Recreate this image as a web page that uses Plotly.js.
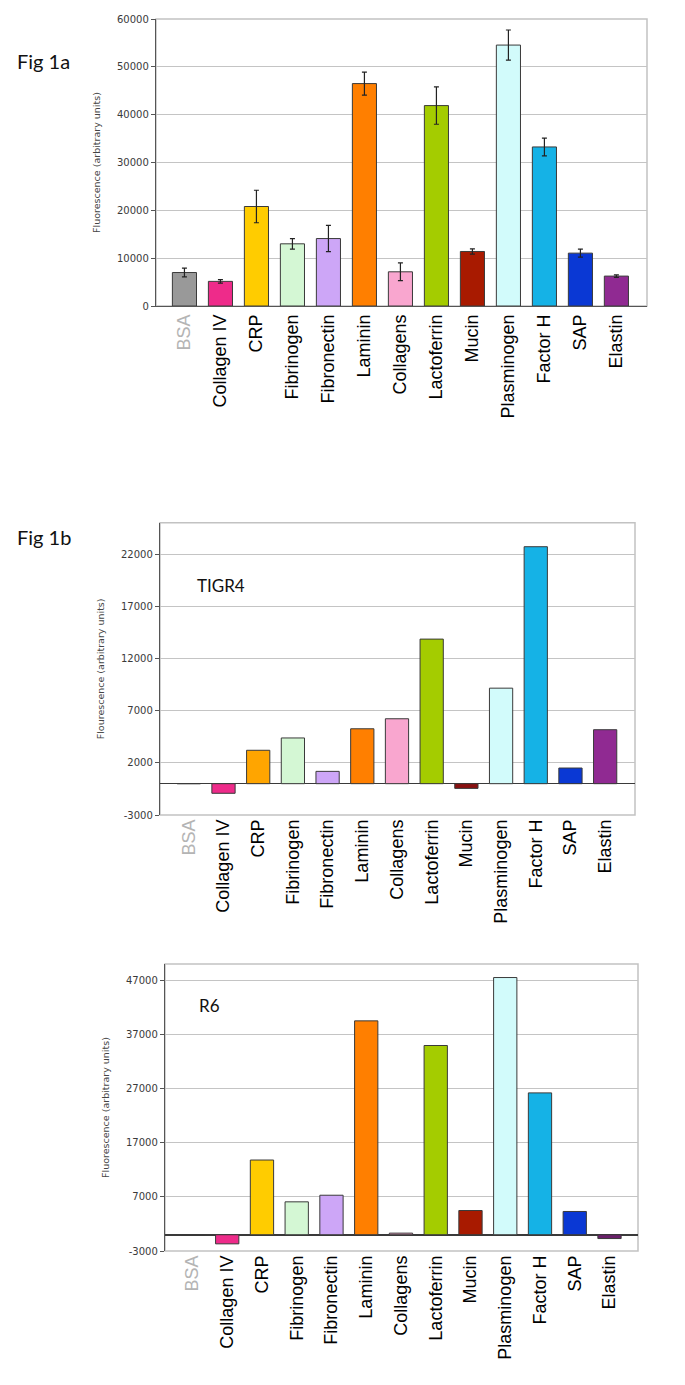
<!DOCTYPE html>
<html>
<head>
<meta charset="utf-8">
<script src="https://cdn.plot.ly/plotly-3.0.1.min.js"></script>
<style>html,body{margin:0;padding:0;background:#fff;}#chart{width:685px;height:1385px;}</style>
</head>
<body>
<div id="chart"></div>
<script>
// ---- data ----
const categories = ['BSA','Collagen IV','CRP','Fibrinogen','Fibronectin','Laminin','Collagens','Lactoferrin','Mucin','Plasminogen','Factor H','SAP','Elastin'];
const fig1aValues = [7000, 5150, 20800, 13000, 14100, 46500, 7150, 41900, 11400, 54550, 33250, 11050, 6250];
const fig1aErrors = [900, 350, 3400, 1100, 2750, 2400, 1850, 3900, 550, 3150, 1850, 850, 250];
const tigr4Values = [0, -920, 3200, 4380, 1180, 5260, 6220, 13850, -450, 9150, 22700, 1500, 5170];
const r6Values = [0, -1680, 13800, 6080, 7300, 39500, 300, 34950, 4480, 47500, 26200, 4300, -700];
const ticksA = [0, 10000, 20000, 30000, 40000, 50000, 60000];
const ticksB = [-3000, 2000, 7000, 12000, 17000, 22000];
const ticksC = [-3000, 7000, 17000, 27000, 37000, 47000];
const yTitleA = 'Fluorescence (arbitrary units)';
const yTitleB = 'Flourescence (arbitrary units)';
const yTitleC = 'Fluorescence (arbitrary units)';

const colorsA = ['#999999','#ee2b8a','#ffcc00','#d4f7d4','#cda6f7','#ff7f00','#f9a6cf','#a4cc00','#a81a00','#d2fbfb','#15b2e6','#0a38d4','#902a92'];
const colorsB = ['#999999','#ee2b8a','#ffa500','#d4f7d4','#cda6f7','#ff7f00','#f9a6cf','#a4cc00','#8a1010','#d2fbfb','#15b2e6','#0a38d4','#902a92'];
const colorsC = ['#999999','#ee2b8a','#ffcc00','#d4f7d4','#cda6f7','#ff7f00','#f9a6cf','#a4cc00','#a81a00','#d2fbfb','#15b2e6','#0a38d4','#6a1f6a'];

const W = 685, H = 1385;
const px = v => v / W;
const py = v => 1 - v / H;

const tickText = categories.map(c => c === 'BSA' ? '<span style="color:#b4b4b4">BSA</span>' : c);

const traces = [
  {type:'bar', x:categories, y:fig1aValues, xaxis:'x', yaxis:'y',
   marker:{color:colorsA, line:{color:'#3a3a3a', width:1}},
   error_y:{type:'data', array:fig1aErrors, visible:true, color:'#222', thickness:1.2, width:2.5}},
  {type:'bar', x:categories, y:tigr4Values, xaxis:'x2', yaxis:'y2',
   marker:{color:colorsB, line:{color:'#3a3a3a', width:1}}},
  {type:'bar', x:categories, y:r6Values, xaxis:'x3', yaxis:'y3',
   marker:{color:colorsC, line:{color:'#3a3a3a', width:1}}}
];

const tickFont = {family:'DejaVu Sans, Verdana, sans-serif', size:10, color:'#3a3a3a'};
const catFont = {family:'Liberation Sans, Arial, sans-serif', size:18, color:'#000'};
const titleFont = {family:'DejaVu Sans, Verdana, sans-serif', size:9.5, color:'#444'};

function xAxis(domain, range, anchor, showline){
  return {domain:domain, range:range, anchor:anchor, type:'category',
    tickmode:'array', tickvals:categories, ticktext:tickText, tickangle:-90,
    tickfont:catFont, showgrid:false, zeroline:false, showline:showline,
    linecolor:'#555', linewidth:1.2, ticks:'', fixedrange:true};
}
function yAxis(domain, range, ticks, anchor, title, zero){
  return {domain:domain, range:range, anchor:anchor,
    tickmode:'array', tickvals:ticks, ticktext:ticks.map(v => String(v)),
    tickfont:tickFont, showgrid:true, gridcolor:'#c4c4c4', gridwidth:1,
    zeroline:zero, zerolinecolor:'#3a3a3a', zerolinewidth:1.5,
    showline:true, linecolor:'#555', linewidth:1.2, ticks:'outside', ticklen:4, tickcolor:'#555',
    title:{text:title, font:titleFont, standoff:14}, fixedrange:true};
}

const d1x = [px(156), px(647)], d1y = [py(306), py(19)];
const d2x = [px(160), px(635)], d2y = [py(815), py(522.7)];
const d3x = [px(165), px(638)], d3y = [py(1251), py(964)];

function frame(xr, yr){
  return {type:'rect', xref:xr+' domain', yref:yr+' domain', x0:0, x1:1, y0:0, y1:1,
    line:{color:'#c2c2c2', width:1.5}, layer:'below'};
}

const layout = {
  width:W, height:H, margin:{l:0,r:0,t:0,b:0},
  paper_bgcolor:'#fff', plot_bgcolor:'#fff', showlegend:false, bargap:0.33,
  xaxis: xAxis(d1x, [-0.79, 12.85], 'y', true),
  yaxis: yAxis(d1y, [0, 60000], ticksA, 'x', yTitleA, false),
  xaxis2: xAxis(d2x, [-0.83, 12.86], 'y2', false),
  yaxis2: yAxis(d2y, [-3000, 25000], ticksB, 'x2', yTitleB, true),
  xaxis3: xAxis(d3x, [-0.79, 12.82], 'y3', false),
  yaxis3: yAxis(d3y, [-3000, 50000], ticksC, 'x3', yTitleC, true),
  shapes:[frame('x','y'), frame('x2','y2'), frame('x3','y3')],
  annotations:[
    {text:'Fig 1a', xref:'paper', yref:'paper', x:px(15), y:py(61), xanchor:'left', yanchor:'middle', showarrow:false,
     font:{family:'Lato, sans-serif', size:20, color:'#111'}},
    {text:'Fig 1b', xref:'paper', yref:'paper', x:px(15), y:py(537), xanchor:'left', yanchor:'middle', showarrow:false,
     font:{family:'Lato, sans-serif', size:20, color:'#111'}},
    {text:'TIGR4', xref:'paper', yref:'paper', x:px(195), y:py(585), xanchor:'left', yanchor:'middle', showarrow:false,
     font:{family:'Lato, sans-serif', size:17, color:'#111'}},
    {text:'R6', xref:'paper', yref:'paper', x:px(197), y:py(1005), xanchor:'left', yanchor:'middle', showarrow:false,
     font:{family:'Lato, sans-serif', size:17, color:'#111'}}
  ]
};

Plotly.newPlot('chart', traces, layout, {staticPlot:true, displayModeBar:false});
</script>
</body>
</html>
